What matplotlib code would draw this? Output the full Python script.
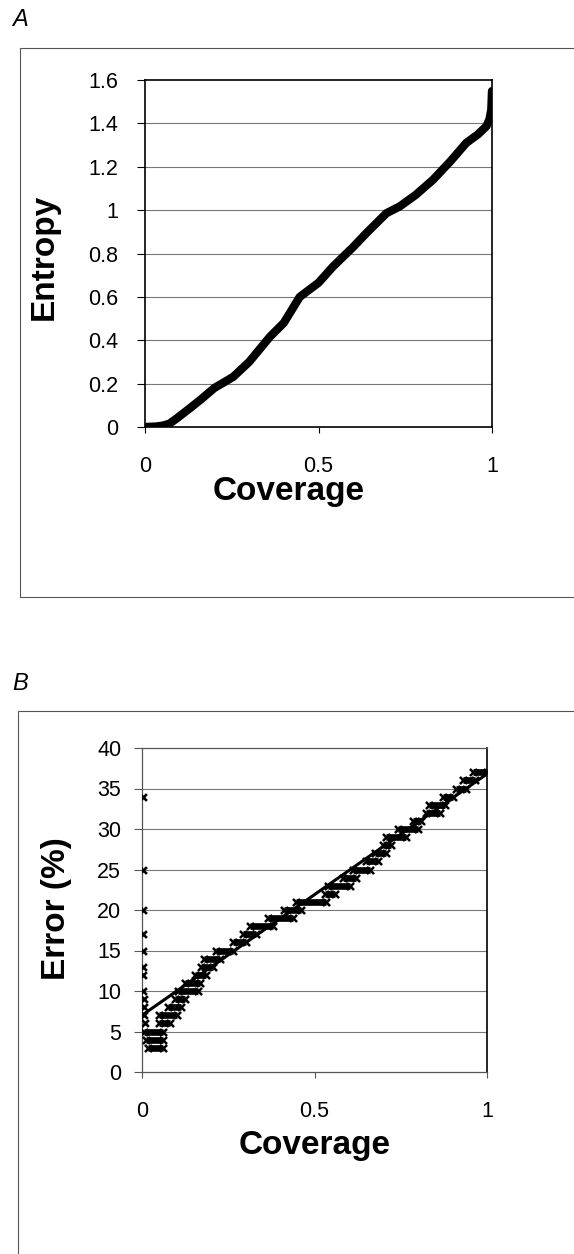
import matplotlib.pyplot as plt
from matplotlib.patches import Rectangle

plt.rcParams['font.family'] = ['Liberation Sans', 'DejaVu Sans']

# Panel A: entropy vs coverage
cov_a = [0.0, 0.03, 0.05, 0.07, 0.091, 0.12, 0.158, 0.2, 0.254, 0.3, 0.36,
         0.4, 0.446, 0.5, 0.542, 0.6, 0.638, 0.696, 0.734, 0.78, 0.83, 0.88,
         0.926, 0.96, 0.984, 0.993, 0.998, 1.0]
ent_a = [0.0, 0.002, 0.006, 0.015, 0.039, 0.075, 0.123, 0.18, 0.231, 0.3, 0.416,
         0.48, 0.60, 0.665, 0.74, 0.83, 0.894, 0.986, 1.017, 1.07, 1.14, 1.225,
         1.31, 1.35, 1.387, 1.42, 1.464, 1.549]

# Panel B: error levels (%) and coverage range of each run of points
err_levels = [3, 4, 5, 6, 7, 8, 9, 10, 11, 12, 13, 14, 15, 16, 17, 18, 19, 20,
              21, 22, 23, 24, 25, 26, 27, 28, 29, 30, 31, 32, 33, 34, 35, 36, 37]
run_start = [0.017, 0.013, 0.005, 0.05, 0.05, 0.075, 0.095, 0.104, 0.124, 0.153,
             0.172, 0.18, 0.215, 0.264, 0.293, 0.312, 0.365, 0.413, 0.447, 0.53,
             0.539, 0.583, 0.612, 0.65, 0.674, 0.698, 0.708, 0.742, 0.785, 0.824,
             0.833, 0.872, 0.91, 0.93, 0.96]
run_end = [0.061, 0.061, 0.06, 0.08, 0.10, 0.114, 0.124, 0.162, 0.167, 0.186,
           0.206, 0.225, 0.264, 0.302, 0.331, 0.38, 0.437, 0.462, 0.534, 0.558,
           0.602, 0.621, 0.66, 0.684, 0.708, 0.723, 0.766, 0.80, 0.809, 0.863,
           0.877, 0.901, 0.94, 0.964, 1.0]
# isolated points at near-zero coverage
zero_cov = [0.003, 0.003, 0.003, 0.003, 0.003, 0.004, 0.004, 0.004, 0.005, 0.005, 0.007, 0.009]
zero_err = [34, 25, 20, 17, 15, 13, 12, 10, 9, 8, 7, 6]
# linear trend line
fit_x = [0.0, 1.0]
fit_y = [7.0, 36.8]

fig = plt.figure(figsize=(5.74, 12.54), dpi=100)
W, H = 574, 1254


def fig_rect(x0, y0, x1, y1):
    return [x0 / W, 1 - y1 / H, (x1 - x0) / W, (y1 - y0) / H]


# outer panel frames
fig.patches.append(Rectangle((20 / W, 1 - 597 / H), 600 / W, 549 / H,
                             transform=fig.transFigure, fill=False,
                             edgecolor='#555555', linewidth=0.8))
fig.patches.append(Rectangle((18 / W, -0.01), 600 / W, 1 - 711 / H + 0.01,
                             transform=fig.transFigure, fill=False,
                             edgecolor='#555555', linewidth=0.8))
fig.text(12 / W, 1 - 20 / H, 'A', fontsize=17, style='italic', va='center')
fig.text(12 / W, 1 - 683 / H, 'B', fontsize=17, style='italic', va='center')

# ---- Panel A ----
ax1 = fig.add_axes(fig_rect(145, 80, 492, 427))
for yv in [0.2, 0.4, 0.6, 0.8, 1.0, 1.2, 1.4]:
    ax1.axhline(yv, color='#777777', linewidth=0.8, zorder=1)
ax1.plot(cov_a, ent_a, color='black', linewidth=6, solid_capstyle='round', zorder=3)
ax1.set_xlim(0, 1)
ax1.set_ylim(0, 1.6)
ax1.set_xticks([0, 0.5, 1])
ax1.set_xticklabels(['0', '0.5', '1'])
ax1.set_yticks([0, 0.2, 0.4, 0.6, 0.8, 1.0, 1.2, 1.4, 1.6])
ax1.set_yticklabels(['0', '0.2', '0.4', '0.6', '0.8', '1', '1.2', '1.4', '1.6'])
ax1.tick_params(axis='x', direction='out', length=4, pad=17, labelsize=15.5)
ax1.tick_params(axis='y', direction='out', length=6, pad=13, labelsize=15.5)
for s in ax1.spines.values():
    s.set_color('black')
    s.set_linewidth(1.2)
ax1.set_xlabel('Coverage', fontsize=24, fontweight='bold')
ax1.set_ylabel('Entropy', fontsize=24, fontweight='bold')
ax1.xaxis.set_label_coords(0.415, -0.14)
ax1.yaxis.set_label_coords(-0.245, 0.49)

# ---- Panel B ----
ax2 = fig.add_axes(fig_rect(142, 748, 487, 1072))
for yv in [5, 10, 15, 20, 25, 30, 35]:
    ax2.axhline(yv, color='#777777', linewidth=0.8, zorder=1)
ax2.hlines(err_levels, run_start, run_end, color='black', linewidth=4.8, zorder=3)
ax2.scatter(run_start + run_end, err_levels + err_levels, marker='x',
            s=26, color='black', linewidths=1.8, zorder=4)
ax2.scatter(zero_cov, zero_err, marker='x', s=24, color='black', linewidths=1.9, zorder=4)
ax2.plot(fit_x, fit_y, color='black', linewidth=2.2, zorder=5)
ax2.set_xlim(0, 1)
ax2.set_ylim(0, 40)
ax2.set_xticks([0, 0.5, 1])
ax2.set_xticklabels(['0', '0.5', '1'])
ax2.set_yticks(range(0, 41, 5))
ax2.tick_params(axis='x', direction='out', length=4, pad=17, labelsize=15.5, color='#555555')
ax2.tick_params(axis='y', direction='out', length=6, pad=9, labelsize=15.5, color='#555555')
for name, s in ax2.spines.items():
    s.set_color('#555555')
    s.set_linewidth(0.9)
ax2.spines['right'].set_color('black')
ax2.spines['right'].set_linewidth(1.2)
ax2.set_xlabel('Coverage', fontsize=24, fontweight='bold')
ax2.set_ylabel('Error (%)', fontsize=24, fontweight='bold')
ax2.xaxis.set_label_coords(0.5, -0.179)
ax2.yaxis.set_label_coords(-0.203, 0.503)

fig.savefig('out.png', dpi=100)
